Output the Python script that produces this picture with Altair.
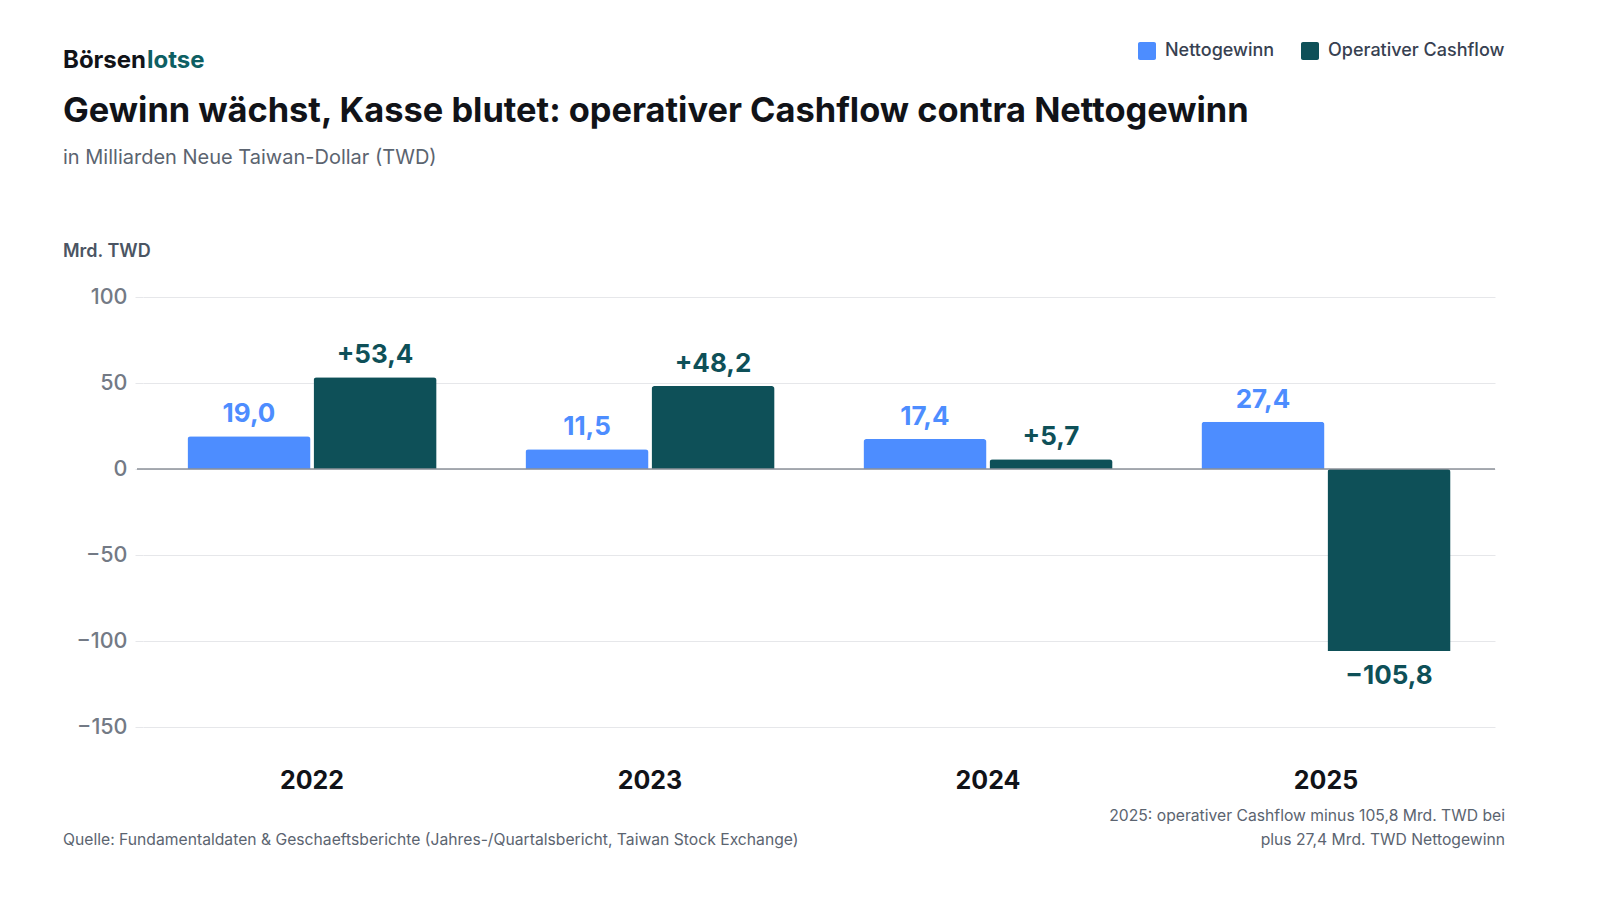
import altair as alt
import pandas as pd

years = ["2022", "2023", "2024", "2025"]
netto = [19.0, 11.5, 17.4, 27.4]
cashflow = [53.4, 48.2, 5.7, -105.8]
series_names = ["Nettogewinn", "Operativer Cashflow"]
colors = ["#4d8dff", "#0e5058"]
y_ticks = [100, 50, 0, -50, -100, -150]


def fmt(v, plus):
    s = f"{abs(v):.1f}".replace(".", ",")
    if v < 0:
        return "\u2212" + s
    return ("+" + s) if plus else s


rows = []
for i, yr in enumerate(years):
    rows.append({"year": yr, "series": series_names[0], "value": netto[i],
                 "label": fmt(netto[i], False)})
    rows.append({"year": yr, "series": series_names[1], "value": cashflow[i],
                 "label": fmt(cashflow[i], True)})
df = pd.DataFrame(rows)

FONT = "Inter"
W, H = 1352, 430
PL, PT = 135, 289  # plot origin = 143, 297 on the page

color_scale = alt.Scale(domain=series_names, range=colors)
x_enc = alt.X("year:N", sort=years,
              scale=alt.Scale(paddingInner=0.263, paddingOuter=0.1316),
              axis=alt.Axis(title=None, domain=False, ticks=False, labelPadding=41,
                            labelAngle=0, labelFontSize=25, labelFontWeight="bold",
                            labelColor="#111318", labelFont=FONT, grid=False))
xo_enc = alt.XOffset("series:N", sort=series_names,
                     scale=alt.Scale(paddingInner=0.024, paddingOuter=0))
y_scale = alt.Scale(domain=[-150, 100], nice=False, zero=False)

base = alt.Chart(df)

bars = base.mark_bar(cornerRadiusEnd=3).encode(
    x=x_enc,
    xOffset=xo_enc,
    y=alt.Y("value:Q", scale=y_scale,
            axis=alt.Axis(title=None, values=y_ticks, domain=False, tickSize=8,
                          tickColor="#e6e7ea", gridColor="#e6e7ea", grid=True,
                          labelPadding=8, labelFontSize=21.5, labelColor="#737a85",
                          labelFont=FONT, labelFontWeight=500,
                          labelExpr="datum.value < 0 ? '\u2212' + abs(datum.value) : '' + datum.value")),
    color=alt.Color("series:N", scale=color_scale, sort=series_names,
                    legend=alt.Legend(title=None, orient="none", direction="horizontal",
                                      legendX=995, legendY=-255,
                                      symbolType="M-0.78,-1L0.78,-1A0.22,0.22,0,0,1,1,-0.78L1,0.78A0.22,0.22,0,0,1,0.78,1L-0.78,1A0.22,0.22,0,0,1,-1,0.78L-1,-0.78A0.22,0.22,0,0,1,-0.78,-1Z",
                                      symbolSize=324, symbolStrokeWidth=0, symbolOpacity=1,
                                      labelFontSize=18, labelFont=FONT, labelFontWeight=500,
                                      labelColor="#374151", labelOffset=9, columnPadding=26,
                                      labelLimit=400)),
)

zero = alt.Chart(pd.DataFrame({"v": [0]})).mark_rule(color="#8b9098", strokeWidth=1.5).encode(
    y=alt.Y("v:Q", scale=y_scale), x=alt.value(-6), x2=alt.value(W))

pos_labels = base.transform_filter("datum.value >= 0").mark_text(
    baseline="bottom", dy=-9, fontSize=26, fontWeight="bold", font=FONT).encode(
    x=x_enc, xOffset=xo_enc, y=alt.Y("value:Q", scale=y_scale),
    text="label:N",
    color=alt.Color("series:N", scale=color_scale, sort=series_names, legend=None))

neg_labels = base.transform_filter("datum.value < 0").mark_text(
    baseline="top", dy=12, fontSize=26, fontWeight="bold", font=FONT).encode(
    x=x_enc, xOffset=xo_enc, y=alt.Y("value:Q", scale=y_scale),
    text="label:N",
    color=alt.Color("series:N", scale=color_scale, sort=series_names, legend=None))


def txt(text, x, y, size, color, weight="normal", align="left", baseline="middle"):
    return alt.Chart(pd.DataFrame({"t": [text]})).mark_text(
        align=align, baseline=baseline, fontSize=size, fontWeight=weight, font=FONT,
        color=color).encode(text="t:N", x=alt.value(x), y=alt.value(y))


ox, oy = 143, 297
texts = [
    txt("Börsen", 63 - ox, 61 - oy, 24, "#111318", "bold"),
    txt("lotse", 147 - ox, 61 - oy, 24, "#0e5f63", "bold"),
    txt("Gewinn wächst, Kasse blutet: operativer Cashflow contra Nettogewinn",
        63 - ox, 112 - oy, 34.4, "#111318", "bold"),
    txt("in Milliarden Neue Taiwan-Dollar (TWD)", 63 - ox, 158 - oy, 20, "#5b6470"),
    txt("Mrd. TWD", 63 - ox, 252 - oy, 18, "#4b5563", 600),
    txt("Quelle: Fundamentaldaten & Geschaeftsberichte (Jahres-/Quartalsbericht, Taiwan Stock Exchange)",
        63 - ox, 840 - oy, 15.7, "#5b6470"),
    txt("2025: operativer Cashflow minus 105,8 Mrd. TWD bei", 1505 - ox, 816 - oy, 15.7,
        "#5b6470", align="right"),
    txt("plus 27,4 Mrd. TWD Nettogewinn", 1505 - ox, 840 - oy, 15.7, "#5b6470", align="right"),
]

chart = alt.layer(bars, zero, pos_labels, neg_labels, *texts).properties(
    width=W, height=H,
    autosize=alt.AutoSizeParams(type="none"),
    padding={"left": PL, "top": PT, "right": 97, "bottom": 150},
).configure(font=FONT, background="white").configure_view(stroke=None)

chart.save("out.html", embed_options={"renderer": "svg", "actions": False})
